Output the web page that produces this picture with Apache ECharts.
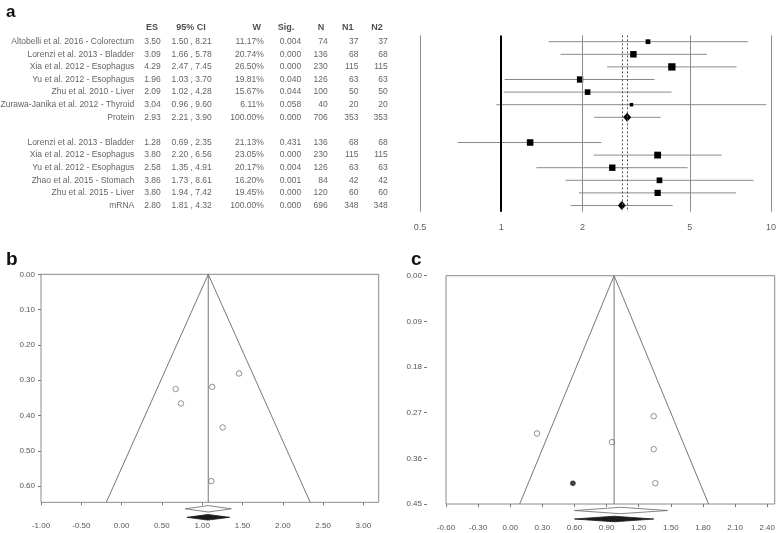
<!DOCTYPE html>
<html><head><meta charset="utf-8">
<script src="https://cdn.jsdelivr.net/npm/echarts@6/dist/echarts.min.js"></script>
<style>html,body{margin:0;padding:0;background:#fff}#c{width:778px;height:533px}</style>
</head><body><div id="c"></div>
<script>
// ---------- Panel a: forest plot data ----------
const studies = ['Altobelli et al. 2016 - Colorectum','Lorenzi et al. 2013 - Bladder','Xia et al. 2012 - Esophagus','Yu et al. 2012 - Esophagus','Zhu et al. 2010 - Liver','Zurawa-Janika et al. 2012 - Thyroid','Protein','','Lorenzi et al. 2013 - Bladder','Xia et al. 2012 - Esophagus','Yu et al. 2012 - Esophagus','Zhao et al. 2015 - Stomach','Zhu et al. 2015 - Liver','mRNA'];
const es     = [3.50, 3.09, 4.29, 1.96, 2.09, 3.04, 2.93, null, 1.28, 3.80, 2.58, 3.86, 3.80, 2.80];
const ciLow  = [1.50, 1.66, 2.47, 1.03, 1.02, 0.96, 2.21, null, 0.69, 2.20, 1.35, 1.73, 1.94, 1.81];
const ciHigh = [8.21, 5.78, 7.45, 3.70, 4.28, 9.60, 3.90, null, 2.35, 6.56, 4.91, 8.61, 7.42, 4.32];
const weight = [11.17, 20.74, 26.50, 19.81, 15.67, 6.11, 100.00, null, 21.13, 23.05, 20.17, 16.20, 19.45, 100.00];
const sig    = ['0.004','0.000','0.000','0.040','0.044','0.058','0.000', null,'0.431','0.000','0.004','0.001','0.000','0.000'];
const nTotal = [74, 136, 230, 126, 100, 40, 706, null, 136, 230, 126, 84, 120, 696];
const n1     = [37, 68, 115, 63, 50, 20, 353, null, 68, 115, 63, 42, 60, 348];
const n2     = [37, 68, 115, 63, 50, 20, 353, null, 68, 115, 63, 42, 60, 348];
const pooledRows = [6, 13];
const headers = ['ES', '95% CI', 'W', 'Sig.', 'N', 'N1', 'N2'];
const forestTicks = [0.5, 1, 2, 5, 10];
const forestTickLabels = ['0.5', '1', '2', '5', '10'];

// ---------- Panel b: funnel (protein) ----------
const bStudyX  = [1.457, 0.671, 1.125, 0.737, 1.254, 1.113];
const bStudySE = [0.281, 0.325, 0.319, 0.366, 0.434, 0.586];
const bPooled = 1.075;
const bSEMax = 0.646;
const bFunnelEnds = [-0.19, 2.34];
const bDiamondObserved = [0.79, 1.075, 1.36];
const bDiamondAdjusted = [0.81, 1.07, 1.34];

// ---------- Panel c: funnel (mRNA) ----------
const cStudyX  = [0.25, 0.95, 1.34, 1.34, 1.355];
const cStudySE = [0.311, 0.328, 0.277, 0.342, 0.409];
const cImputedX  = [0.585];
const cImputedSE = [0.409];
const cPooled = 0.97;
const cSEMax = 0.45;
const cFunnelEnds = [0.088, 1.852];
const cDiamondObserved = [0.60, 1.03, 1.47];
const cDiamondAdjusted = [0.60, 0.97, 1.34];

const FONT = "'Liberation Sans', Arial, sans-serif";
const chart = echarts.init(document.getElementById('c'));

// ---- table text ----
function textSeries(items, align, opts) {
  opts = opts || {};
  return {
    type: 'scatter', xAxisIndex: 0, yAxisIndex: 0, silent: true, clip: false,
    symbolSize: 1, itemStyle: { color: 'rgba(0,0,0,0)' },
    label: {
      show: true, formatter: '{b}',
      position: align === 'right' ? 'left' : 'inside', distance: 0,
      fontFamily: FONT, fontSize: opts.size || 8.5,
      fontWeight: opts.bold ? 'bold' : 'normal', color: opts.color || '#3a3a3a'
    },
    data: items
  };
}
function colItems(x, fn) {
  const out = [];
  studies.forEach((s, i) => { const t = fn(i); if (t !== null && t !== '') out.push({ name: t, value: [x, i] }); });
  return out;
}
const tableSeries = [
  textSeries(colItems(134.7, i => studies[i]), 'right'),
  textSeries(colItems(152.5, i => es[i] == null ? null : es[i].toFixed(2)), 'center'),
  textSeries(colItems(191.7, i => ciLow[i] == null ? null : ciLow[i].toFixed(2) + ' , ' + ciHigh[i].toFixed(2)), 'center'),
  textSeries(colItems(264.3, i => weight[i] == null ? null : weight[i].toFixed(2) + '%'), 'right'),
  textSeries(colItems(290.5, i => sig[i]), 'center'),
  textSeries(colItems(328.3, i => nTotal[i] == null ? null : String(nTotal[i])), 'right'),
  textSeries(colItems(359.0, i => n1[i] == null ? null : String(n1[i])), 'right'),
  textSeries(colItems(388.3, i => n2[i] == null ? null : String(n2[i])), 'right')
];
const headerX = [152, 191, 256.7, 286, 321, 347.7, 377];
tableSeries.push(textSeries(headers.map((h, k) => ({ name: h, value: [headerX[k], -1.12] })), 'center', { bold: true, size: 9, color: '#222' }));

// ---- forest marks ----
const forestData = [];
es.forEach((v, i) => { if (v != null) forestData.push([v, i, ciLow[i], ciHigh[i], weight[i], pooledRows.includes(i) ? 1 : 0]); });

const refLines = forestTicks.map(v => [
  { coord: [v, -0.5], lineStyle: { color: v === 1 ? '#000' : '#8c8c8c', width: v === 1 ? 2 : 1, type: 'solid' } },
  { coord: [v, 13.5] }
]).concat(pooledRows.map(r => [
  { coord: [es[r], -0.5], lineStyle: { color: '#555', width: 1, type: [2, 2] } },
  { coord: [es[r], 13.5] }
]));

// ---- funnel helpers ----
function diamondSeries(xi, yi, d, seMax, offset, filled) {
  return {
    type: 'custom', xAxisIndex: xi, yAxisIndex: yi, silent: true, clip: false,
    data: [[d[0], d[1], d[2], seMax]], encode: { x: [0, 1, 2], y: 3 },
    renderItem: function (params, api) {
      const l = api.coord([api.value(0), api.value(3)]);
      const m = api.coord([api.value(1), api.value(3)]);
      const h = api.coord([api.value(2), api.value(3)]);
      const y = m[1] + offset, hh = filled ? 2.8 : 3.2;
      return { type: 'polygon', shape: { points: [[l[0], y], [m[0], y - hh], [h[0], y], [m[0], y + hh]] },
        style: { fill: filled ? '#1a1a1a' : '#fff', stroke: filled ? '#1a1a1a' : '#666', lineWidth: 0.8 } };
    }
  };
}
function funnelSeries(xi, yi, pooled, seMax, ends, sx, sse, ix, ise, dObs, dAdj) {
  const s = [
    { type: 'line', xAxisIndex: xi, yAxisIndex: yi, silent: true, symbol: 'none',
      lineStyle: { color: '#777', width: 1 }, data: [[ends[0], seMax], [pooled, 0], [ends[1], seMax]] },
    { type: 'line', xAxisIndex: xi, yAxisIndex: yi, silent: true, symbol: 'none',
      lineStyle: { color: '#777', width: 1 }, data: [[pooled, 0], [pooled, seMax]] },
    { type: 'scatter', xAxisIndex: xi, yAxisIndex: yi, silent: true, symbol: 'circle', symbolSize: 5.5,
      itemStyle: { color: '#fff', borderColor: '#555', borderWidth: 0.8 }, data: sx.map((v, i) => [v, sse[i]]) },
    diamondSeries(xi, yi, dObs, seMax, 6.5, false),
    diamondSeries(xi, yi, dAdj, seMax, 15, true)
  ];
  if (ix) s.push({ type: 'scatter', xAxisIndex: xi, yAxisIndex: yi, silent: true, symbol: 'circle', symbolSize: 5.5,
      itemStyle: { color: '#111' }, data: ix.map((v, i) => [v, ise[i]]) });
  return s;
}
const axLabel = { fontFamily: FONT, fontSize: 8, color: '#555', formatter: v => Number(v).toFixed(2) };
const noLine = { show: false, onZero: false };
const hidden = { axisLine: noLine, axisTick: { show: false }, axisLabel: { show: false }, splitLine: { show: false } };

const option = {
  animation: false,
  backgroundColor: '#fff',
  title: [
    { text: 'a', left: 1, top: -1, textStyle: { fontFamily: FONT, fontSize: 17, fontWeight: 'bold', color: '#111' } },
    { text: 'b', left: 1, top: 245, textStyle: { fontFamily: FONT, fontSize: 19, fontWeight: 'bold', color: '#111' } },
    { text: 'c', left: 406, top: 245, textStyle: { fontFamily: FONT, fontSize: 19, fontWeight: 'bold', color: '#111' } }
  ],
  grid: [
    { left: 0, width: 420, top: 16.5, height: 195.3 },
    { left: 420, width: 351, top: 35.4, height: 176.4 },
    { left: 41, width: 337.7, top: 274.3, height: 228, show: true, borderColor: '#8a8a8a', borderWidth: 1, backgroundColor: 'transparent' },
    { left: 446, width: 329.7, top: 275.7, height: 228.3, show: true, borderColor: '#8a8a8a', borderWidth: 1, backgroundColor: 'transparent' }
  ],
  xAxis: [
    Object.assign({ type: 'value', gridIndex: 0, min: 0, max: 420 }, hidden),
    Object.assign({ type: 'log', logBase: 10, gridIndex: 1, min: 0.5, max: 10 }, hidden),
    { type: 'value', gridIndex: 2, min: -1, max: 3.19, interval: 0.5, position: 'bottom', axisLine: noLine,
      axisTick: { show: true, length: 3, lineStyle: { color: '#777' } }, splitLine: { show: false },
      axisLabel: Object.assign({ margin: 19, showMaxLabel: false }, axLabel) },
    { type: 'value', gridIndex: 3, min: -0.6, max: 2.47, interval: 0.3, position: 'bottom', axisLine: noLine,
      axisTick: { show: true, length: 3, lineStyle: { color: '#777' } }, splitLine: { show: false },
      axisLabel: Object.assign({ margin: 20, showMaxLabel: false }, axLabel) }
  ],
  yAxis: [
    Object.assign({ type: 'value', gridIndex: 0, min: -2, max: 13.5, inverse: true }, hidden),
    Object.assign({ type: 'value', gridIndex: 1, min: -0.5, max: 13.5, inverse: true }, hidden),
    { type: 'value', gridIndex: 2, min: 0, max: bSEMax, interval: 0.1, inverse: true, position: 'left', axisLine: noLine,
      axisTick: { show: true, length: 3, lineStyle: { color: '#777' } }, splitLine: { show: false },
      axisLabel: Object.assign({ margin: 6, showMaxLabel: false }, axLabel) },
    { type: 'value', gridIndex: 3, min: 0, max: cSEMax, interval: 0.09, inverse: true, position: 'left', offset: 19,
      axisLine: noLine, axisTick: { show: true, length: 3, lineStyle: { color: '#777' } }, splitLine: { show: false },
      axisLabel: Object.assign({ margin: 5 }, axLabel) }
  ],
  series: tableSeries.concat([
    { type: 'scatter', xAxisIndex: 1, yAxisIndex: 1, silent: true, clip: false, symbolSize: 1,
      itemStyle: { color: 'rgba(0,0,0,0)' },
      label: { show: true, position: 'inside', formatter: '{b}', fontFamily: FONT, fontSize: 9, color: '#333' },
      data: forestTicks.map((v, i) => ({ name: forestTickLabels[i], value: [v, 14.75] })),
      markLine: { silent: true, symbol: ['none', 'none'], label: { show: false }, data: refLines }
    },
    { type: 'custom', xAxisIndex: 1, yAxisIndex: 1, silent: true, clip: false,
      data: forestData, encode: { x: [0, 2, 3], y: 1 },
      renderItem: function (params, api) {
        const row = api.value(1);
        const p = api.coord([api.value(0), row]);
        const l = api.coord([api.value(2), row]);
        const h = api.coord([api.value(3), row]);
        const children = [{ type: 'line', shape: { x1: l[0], y1: p[1], x2: h[0], y2: p[1] }, style: { stroke: '#8a8a8a', lineWidth: 1 } }];
        if (api.value(5) === 1) {
          children.push({ type: 'polygon', shape: { points: [[p[0] - 4, p[1]], [p[0], p[1] - 4.5], [p[0] + 4, p[1]], [p[0], p[1] + 4.5]] }, style: { fill: '#000' } });
        } else {
          const s = 1.42 * Math.sqrt(api.value(4));
          children.push({ type: 'rect', shape: { x: p[0] - s / 2, y: p[1] - s / 2, width: s, height: s }, style: { fill: '#000' } });
        }
        return { type: 'group', children: children };
      }
    }
  ]).concat(funnelSeries(2, 2, bPooled, bSEMax, bFunnelEnds, bStudyX, bStudySE, null, null, bDiamondObserved, bDiamondAdjusted))
    .concat(funnelSeries(3, 3, cPooled, cSEMax, cFunnelEnds, cStudyX, cStudySE, cImputedX, cImputedSE, cDiamondObserved, cDiamondAdjusted))
};
chart.setOption(option);
</script>
</body></html>
